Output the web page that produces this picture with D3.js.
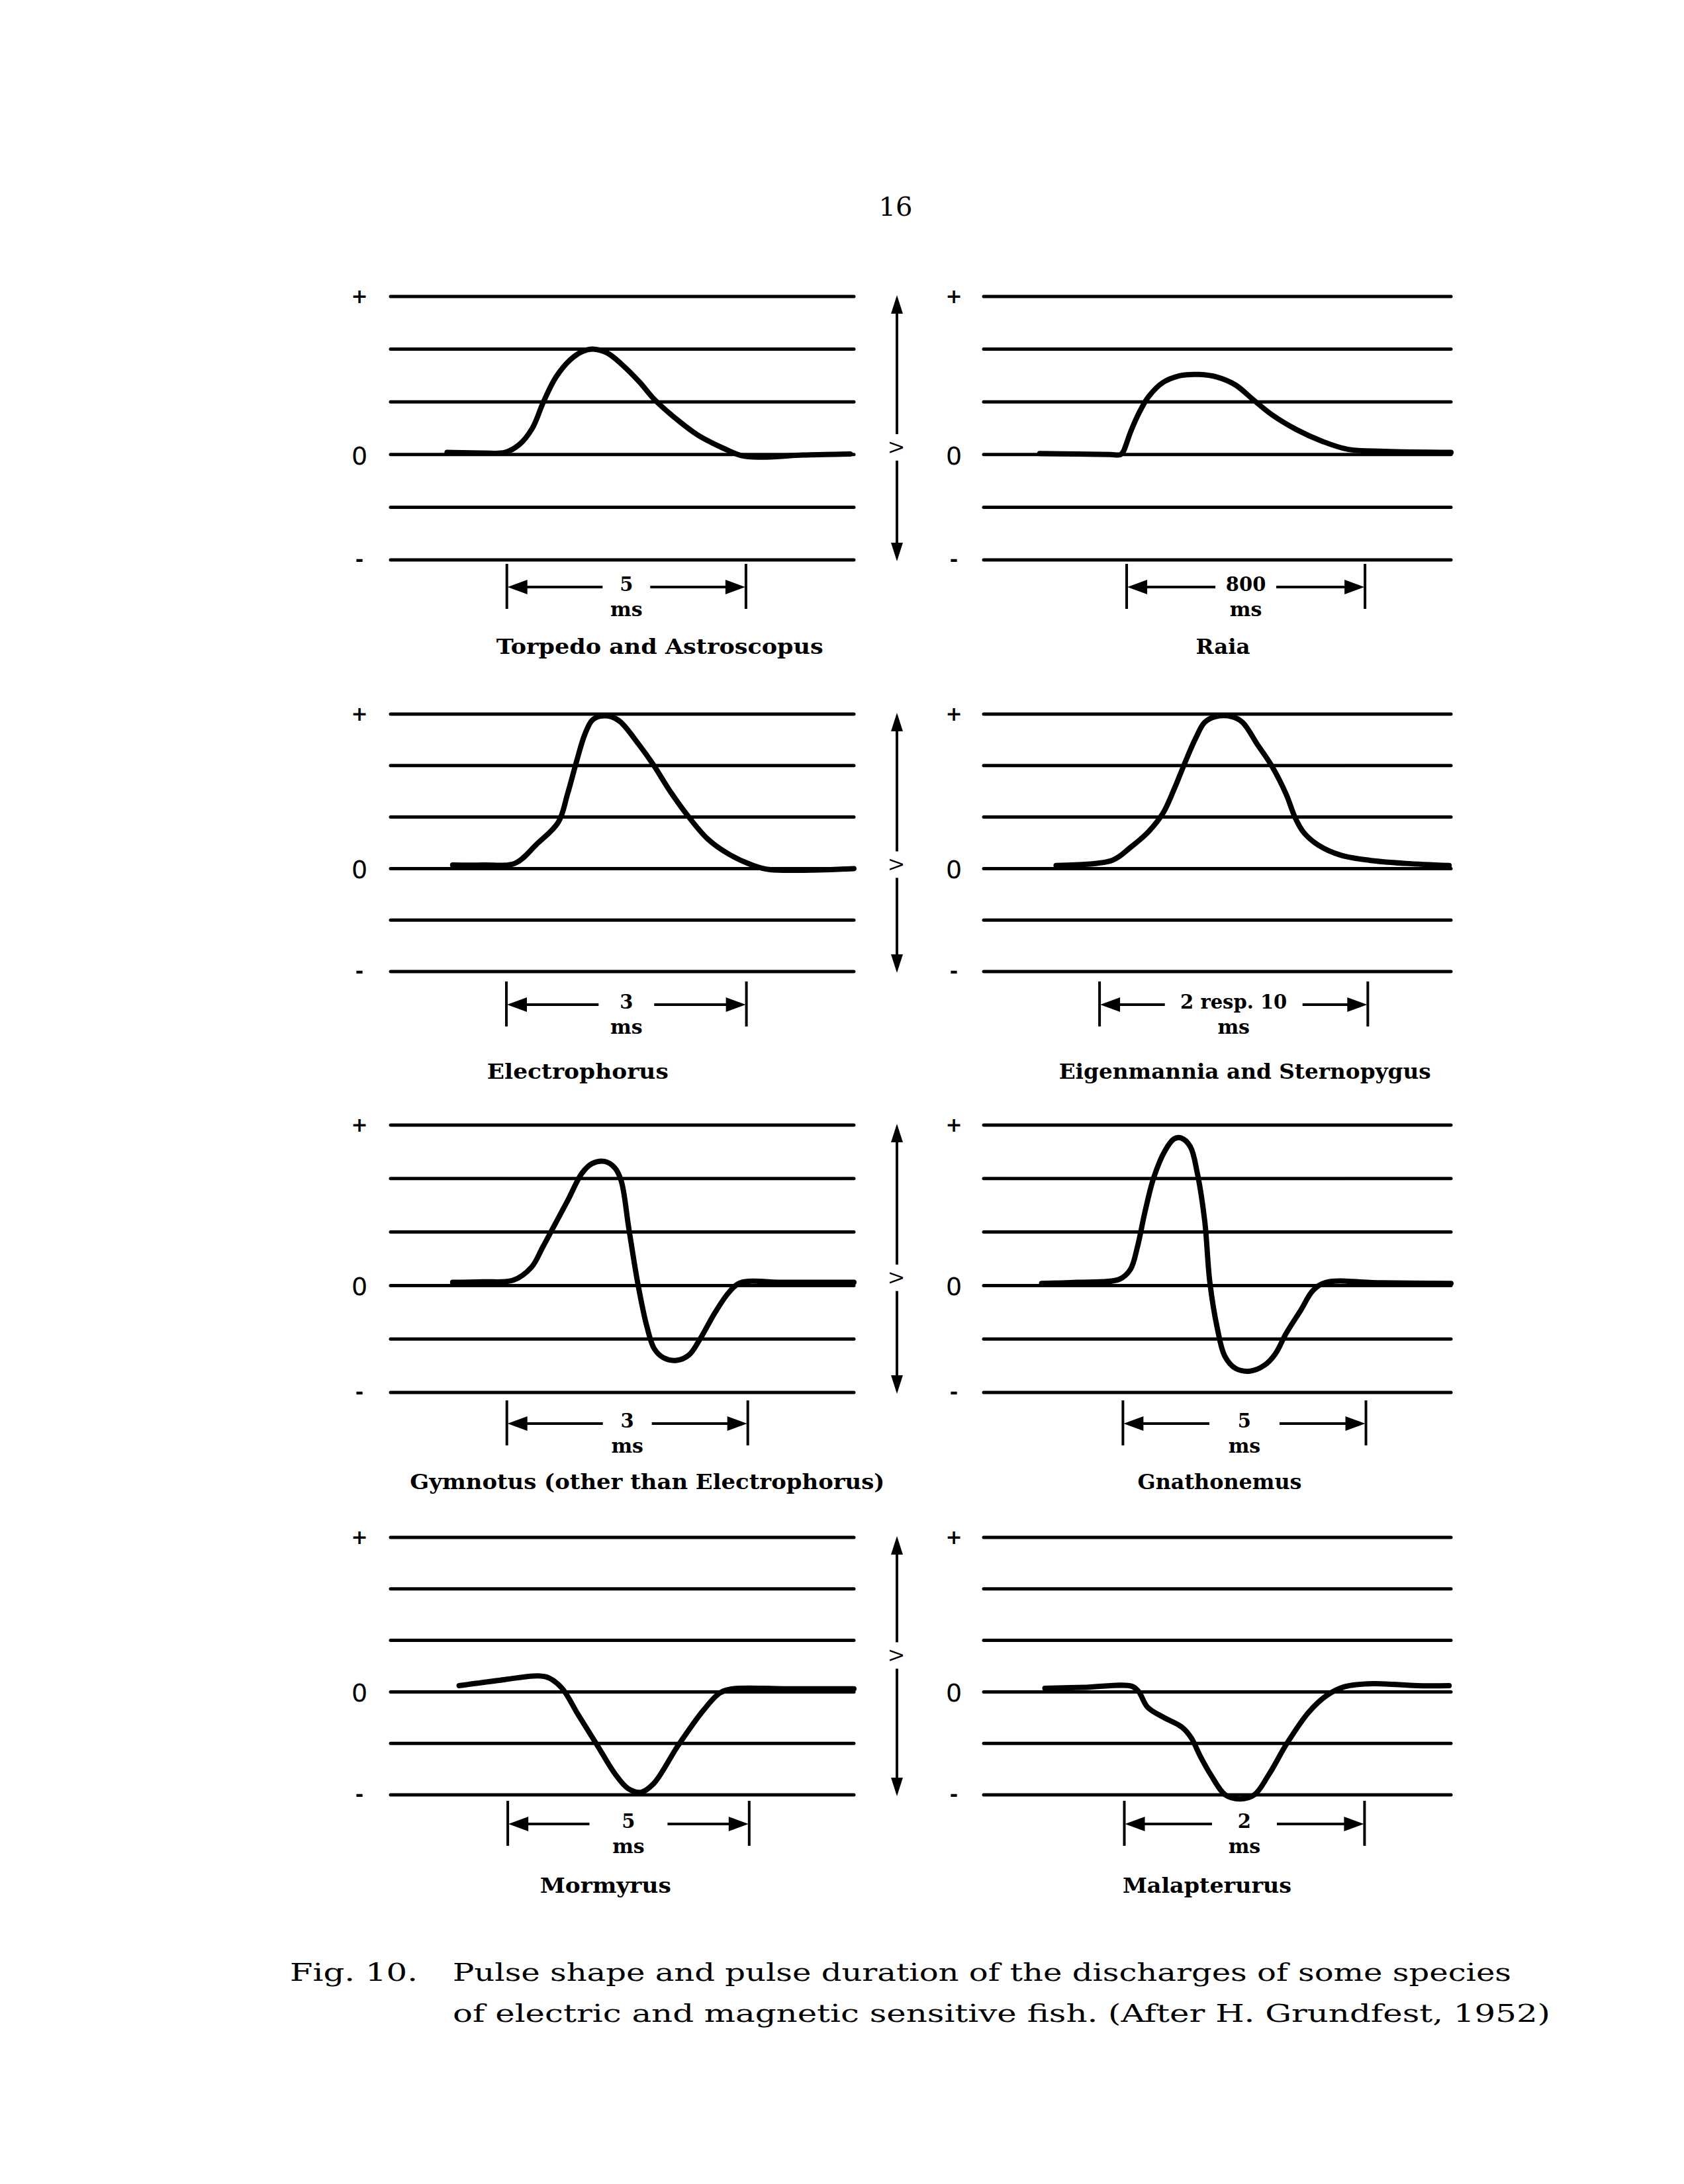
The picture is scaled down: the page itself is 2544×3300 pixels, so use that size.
<!DOCTYPE html>
<html>
<head>
<title>Fig. 10 - Pulse shape and pulse duration</title>
<script src="https://d3js.org/d3.v7.min.js"></script>
<style>
  body { margin: 0; background: #fff; }
  svg { display: block; }
</style>
</head>
<body>
<div id="chart"></div>
<script>
// panels are read left to right, top to bottom
const titles = [
  "Torpedo and Astroscopus", "Raia",
  "Electrophorus", "Eigenmannia and Sternopygus",
  "Gymnotus (other than Electrophorus)", "Gnathonemus",
  "Mormyrus", "Malapterurus"
];
const scaleLabels = ["5", "800", "3", "2 resp. 10", "3", "5", "5", "2"];
const scaleUnit = "ms";
// scale bar ends, in percent of the panel width
const scaleStart = [25.1, 30.6, 25.0, 24.8, 25.1, 29.8, 25.3, 30.1];
const scaleEnd   = [76.7, 81.6, 76.8, 82.2, 77.1, 81.8, 77.4, 81.5];

// grid levels (+ at top, 0 in the middle, - at the bottom)
const gridLevels = [3, 2, 1, 0, -1, -2];
const levelMarkText = ["+", "0", "-"];
const levelMarkAt = [3, 0, -2];

// traces: [percent of panel width, grid level]
const torpedo = [[12.2,0.04],[20,0.03],[24.7,0.04],[27.8,0.19],[30.6,0.5],[33,1.0],[35.7,1.47],[38.8,1.8],[41.5,1.96],[43.6,2.0],[46.7,1.93],[49.8,1.72],[53.7,1.38],[56.9,1.05],[61.6,0.68],[66.3,0.37],[71.8,0.12],[75.7,-0.02],[79.6,-0.05],[89,-0.01],[99.2,0.01]];
const raia = [[12,0.02],[20,0.01],[27,0.0],[29.3,0.0],[29.9,0.06],[30.6,0.22],[31.4,0.42],[33.3,0.8],[35.3,1.1],[38.4,1.37],[42.2,1.5],[46.1,1.52],[50,1.47],[53.9,1.32],[57.7,1.04],[61.6,0.76],[67,0.47],[72.5,0.25],[77.9,0.1],[85.7,0.06],[100,0.04]];
const electrophorus = [[13.4,0.07],[20,0.07],[26.8,0.1],[31.5,0.47],[36.2,0.9],[38.2,1.45],[40.2,2.1],[41.9,2.6],[43.5,2.88],[45.3,2.96],[47.6,2.95],[49.6,2.85],[53.5,2.42],[56.7,2.02],[60.2,1.52],[64.2,1.02],[68.5,0.57],[73.2,0.27],[78,0.07],[81.9,-0.02],[100,0]];
const eigenmannia = [[15.5,0.06],[27.5,0.16],[31.4,0.41],[35.3,0.72],[38.4,1.08],[40.7,1.53],[43,2.04],[45.3,2.52],[47.3,2.84],[49.6,2.95],[53.1,2.95],[55.4,2.84],[58.5,2.42],[61.6,2.0],[64.7,1.45],[66.7,0.98],[68.5,0.7],[71.7,0.45],[76.4,0.26],[82.6,0.16],[90.3,0.1],[99.6,0.06]];
const gymnotus = [[13.4,0.06],[20,0.07],[26.5,0.1],[30.4,0.34],[32.8,0.71],[35.2,1.1],[38.3,1.6],[41.3,2.1],[43.5,2.28],[46.2,2.32],[48.4,2.2],[49.8,1.95],[51.4,1.08],[53.4,0.02],[55.3,-0.76],[56.9,-1.18],[58.9,-1.35],[61.7,-1.4],[64.4,-1.3],[66.8,-1.0],[70,-0.51],[73.1,-0.12],[75.5,0.05],[85,0.06],[100,0.06]];
const gnathonemus = [[12.4,0.04],[20,0.06],[29.1,0.12],[31.4,0.3],[32.9,0.72],[34.5,1.37],[36.4,2.02],[38.8,2.52],[40.7,2.74],[42.2,2.76],[44.2,2.6],[45.7,2.11],[47.3,1.21],[48.4,0.06],[50,-0.8],[51.6,-1.32],[53.9,-1.55],[57,-1.6],[60.1,-1.49],[62.4,-1.28],[64.7,-0.9],[67.8,-0.47],[70.5,-0.09],[73.3,0.06],[85,0.05],[100,0.04]];
const mormyrus = [[14.8,0.12],[23.1,0.22],[31.9,0.31],[34.2,0.27],[37,0.07],[40.6,-0.46],[44.5,-1.02],[48.5,-1.6],[51.3,-1.88],[54,-1.95],[56.8,-1.78],[62,-1.05],[67.5,-0.36],[71.1,-0.02],[73.9,0.06],[85,0.06],[100,0.06]];
const malapterurus = [[13.1,0.07],[22,0.09],[31.7,0.11],[33.2,0.0],[35.1,-0.3],[38.6,-0.5],[42.5,-0.69],[44.4,-0.89],[46.3,-1.24],[48.6,-1.61],[51.7,-2.0],[54.8,-2.08],[57.9,-2.0],[61,-1.61],[64.9,-1.0],[69.5,-0.4],[73.4,-0.07],[77.2,0.1],[83.4,0.16],[92.7,0.12],[99.6,0.12]];
const traces = [torpedo, raia, electrophorus, eigenmannia, gymnotus, gnathonemus, mormyrus, malapterurus];

const vAxisLabel = "V";
const vLabelLevel = [0.06, 0, 0.07, 0.63];

const pageNumber = "16";
const captionLead = "Fig. 10.";
const captionLines = [
  "Pulse shape and pulse duration of the discharges of some species",
  "of electric and magnetic sensitive fish.  (After H. Grundfest, 1952)"
];

// ---- layout ----
const W = 2544, H = 3300;
const cols = [[590, 1290], [1486, 2192]];
const rows = [[448, 846], [1079, 1468], [1700, 2104], [2323, 2712]];
const barY = [887, 1518, 2151, 2756];
const titleY = [988, 1630, 2250, 2860];
const titleX = [58.1, 51.2, 40.4, 55.9, 55.4, 50.5, 46.4, 47.8];
const titleW = [494, 82, 274, 562, 717, 248, 198, 255];
const gapHalf = [36, 46, 42, 104, 37, 53, 59, 49];
const markX = [543, 1441];
const arrowX = 1355;

const svg = d3.select("#chart").append("svg")
  .attr("width", W).attr("height", H)
  .style("background", "#fff");

const serif = "'DejaVu Serif', 'Liberation Serif', serif";

function arrowHead(g, tx, ty, dir, len, half) {
  // dir is where the tip points
  let pts;
  if (dir === "left") pts = [[tx, ty], [tx + len, ty - half], [tx + len, ty + half]];
  if (dir === "right") pts = [[tx, ty], [tx - len, ty - half], [tx - len, ty + half]];
  if (dir === "up") pts = [[tx, ty], [tx - half, ty + len], [tx + half, ty + len]];
  if (dir === "down") pts = [[tx, ty], [tx - half, ty - len], [tx + half, ty - len]];
  g.append("path").attr("d", "M" + pts.map(p => p.join(",")).join("L") + "Z").attr("fill", "#000");
}

svg.append("text")
  .attr("x", 1353).attr("y", 326)
  .attr("text-anchor", "middle")
  .style("font-family", serif).style("font-size", "40px")
  .text(pageNumber);

traces.forEach((trace, i) => {
  const r = Math.floor(i / 2), c = i % 2;
  const [x0, x1] = cols[c];
  const [yT, yB] = rows[r];
  const x = d3.scaleLinear().domain([0, 100]).range([x0, x1]);
  const y = d3.scaleLinear().domain([-2, 3]).range([yB, yT]);
  const g = svg.append("g").attr("class", "panel");

  g.selectAll("line.grid").data(gridLevels).join("line")
    .attr("class", "grid")
    .attr("x1", x(0)).attr("x2", x(100))
    .attr("y1", d => y(d)).attr("y2", d => y(d))
    .attr("stroke", "#000").attr("stroke-width", 5).attr("stroke-linecap", "round");

  g.selectAll("text.mark").data(levelMarkAt).join("text")
    .attr("class", "mark")
    .attr("x", markX[c])
    .attr("y", (d, k) => y(d) + (k === 1 ? 15 : 10))
    .attr("text-anchor", "middle")
    .style("font-family", "'DejaVu Sans', sans-serif")
    .style("font-size", (d, k) => k === 1 ? "38px" : "30px")
    .style("font-weight", (d, k) => k === 1 ? "normal" : "bold")
    .text((d, k) => levelMarkText[k]);

  const line = d3.line().x(d => x(d[0])).y(d => y(d[1])).curve(d3.curveCatmullRom.alpha(0.5));
  g.append("path").datum(trace)
    .attr("d", line)
    .attr("fill", "none").attr("stroke", "#000")
    .attr("stroke-width", 8).attr("stroke-linecap", "round").attr("stroke-linejoin", "round");

  // time scale bar
  const sx0 = x(scaleStart[i]), sx1 = x(scaleEnd[i]);
  const by = barY[r], mid = (sx0 + sx1) / 2;
  g.append("line").attr("x1", sx0).attr("x2", sx0).attr("y1", by - 35).attr("y2", by + 33)
    .attr("stroke", "#000").attr("stroke-width", 4);
  g.append("line").attr("x1", sx1).attr("x2", sx1).attr("y1", by - 35).attr("y2", by + 33)
    .attr("stroke", "#000").attr("stroke-width", 4);
  g.append("line").attr("x1", sx0 + 20).attr("x2", mid - gapHalf[i]).attr("y1", by).attr("y2", by)
    .attr("stroke", "#000").attr("stroke-width", 4);
  g.append("line").attr("x1", mid + gapHalf[i]).attr("x2", sx1 - 20).attr("y1", by).attr("y2", by)
    .attr("stroke", "#000").attr("stroke-width", 4);
  arrowHead(g, sx0 + 1, by, "left", 30, 11);
  arrowHead(g, sx1 - 1, by, "right", 30, 11);
  g.append("text").attr("x", mid).attr("y", by + 6)
    .attr("text-anchor", "middle")
    .style("font-family", serif).style("font-size", "29px").style("font-weight", "bold")
    .text(scaleLabels[i]);
  g.append("text").attr("x", mid).attr("y", by + 44)
    .attr("text-anchor", "middle")
    .style("font-family", serif).style("font-size", "30px").style("font-weight", "bold")
    .text(scaleUnit);

  g.append("text")
    .attr("x", x(titleX[i])).attr("y", titleY[r])
    .attr("text-anchor", "middle")
    .attr("textLength", titleW[i]).attr("lengthAdjust", "spacingAndGlyphs")
    .style("font-family", serif).style("font-size", "32px").style("font-weight", "bold")
    .text(titles[i]);

  // voltage arrow between the two columns, once per row
  if (c === 0) {
    const vy = y(vLabelLevel[r]);
    const a = svg.append("g").attr("class", "v-arrow");
    a.append("line").attr("x1", arrowX).attr("x2", arrowX).attr("y1", yT + 20).attr("y2", vy - 26)
      .attr("stroke", "#000").attr("stroke-width", 4);
    a.append("line").attr("x1", arrowX).attr("x2", arrowX).attr("y1", vy + 14).attr("y2", yB - 20)
      .attr("stroke", "#000").attr("stroke-width", 4);
    arrowHead(a, arrowX, yT - 2, "up", 28, 9);
    arrowHead(a, arrowX, yB + 2, "down", 28, 9);
    a.append("text")
      .attr("transform", `translate(${arrowX + 9},${vy - 6}) rotate(-90)`)
      .attr("text-anchor", "middle")
      .style("font-family", "'DejaVu Sans', sans-serif").style("font-size", "26px")
      .text(vAxisLabel);
  }
});

svg.append("text")
  .attr("x", 438).attr("y", 2993)
  .attr("textLength", 193).attr("lengthAdjust", "spacingAndGlyphs")
  .style("font-family", serif).style("font-size", "38px")
  .text(captionLead);
svg.selectAll("text.caption").data(captionLines).join("text")
  .attr("class", "caption")
  .attr("x", 684).attr("y", (d, k) => 2993 + k * 62)
  .attr("textLength", (d, k) => k === 0 ? 1599 : 1658).attr("lengthAdjust", "spacingAndGlyphs")
  .style("font-family", serif).style("font-size", "38px")
  .text(d => d);
</script>
</body>
</html>
